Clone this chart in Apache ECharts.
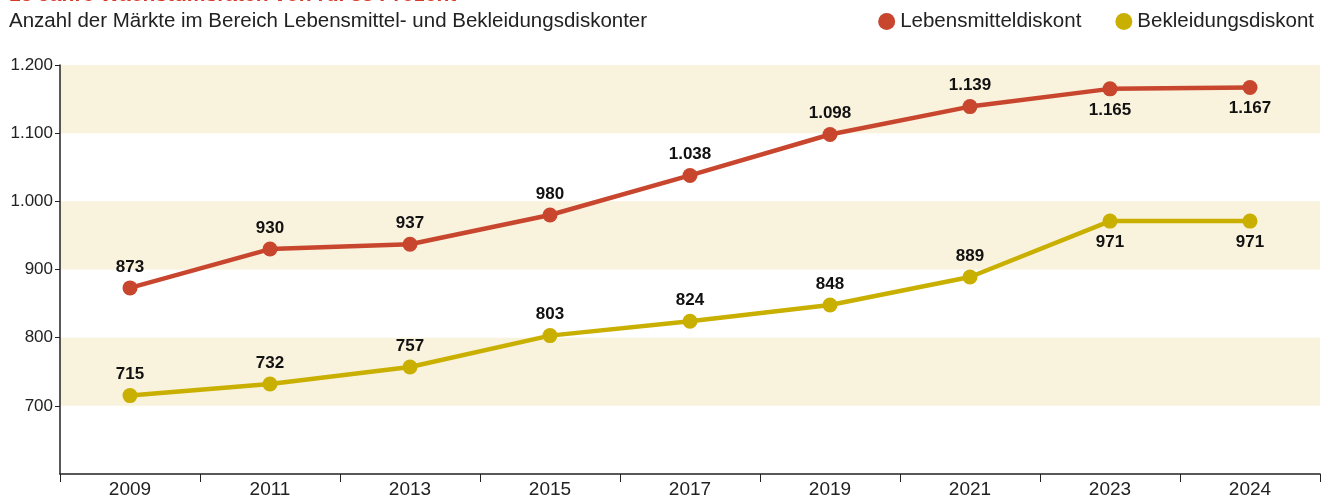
<!DOCTYPE html>
<html><head><meta charset="utf-8">
<script src="https://cdn.jsdelivr.net/npm/echarts@6/dist/echarts.min.js"></script>
<style>html,body{margin:0;padding:0;background:#fff}#c{width:1323px;height:501px}</style>
</head><body><div id="c"></div>
<script>
const years = ['2009','2011','2013','2015','2017','2019','2021','2023','2024'];
const lebensmittel = [873, 930, 937, 980, 1038, 1098, 1139, 1165, 1167];
const bekleidung = [715, 732, 757, 803, 824, 848, 889, 971, 971];
const labelBelow = [false, false, false, false, false, false, false, true, true];
const yTicks = [700, 800, 900, 1000, 1100, 1200];
const titleText = '15 Jahre Wachstumsraten von rd. 33 Prozent';
const subtitleText = 'Anzahl der Märkte im Bereich Lebensmittel- und Bekleidungsdiskonter';

const fmt = v => v.toLocaleString('de-DE');
const FONT = '"Liberation Sans", Arial, sans-serif';

function mk(name, vals, color) {
  return {
    name, type: 'line', data: vals.map((v, i) => ({
      value: v,
      label: { position: labelBelow[i] ? 'bottom' : 'top' }
    })),
    color, symbol: 'circle', symbolSize: 15,
    lineStyle: { width: 4.5, color },
    itemStyle: { color },
    label: { show: true, distance: 5, color: '#111', fontWeight: 'bold', fontSize: 17, fontFamily: FONT,
      formatter: p => fmt(p.value) },
    z: 3
  };
}

const chart = echarts.init(document.getElementById('c'));
chart.setOption({
  animation: false,
  textStyle: { fontFamily: FONT },
  title: [
    { text: titleText, left: 4, top: -20, textStyle: { color: '#d63a2a', fontSize: 21, fontWeight: 'bold', fontFamily: FONT } },
    { text: subtitleText, left: 4, top: 6, textStyle: { color: '#222', fontSize: 20.5, fontWeight: 'normal', fontFamily: FONT } }
  ],
  legend: {
    right: 4, top: 6, itemGap: 34, itemWidth: 17, itemHeight: 17, icon: 'circle',
    textStyle: { fontSize: 20.5, color: '#222', fontFamily: FONT },
    data: ['Lebensmitteldiskont', 'Bekleidungsdiskont']
  },
  grid: { left: 60, right: 3, top: 65, bottom: 27, containLabel: false },
  xAxis: {
    type: 'category', data: years, boundaryGap: true,
    axisLine: { lineStyle: { color: '#222', width: 1.5 } },
    axisTick: { show: true, length: 8, lineStyle: { color: '#222' } },
    axisLabel: { color: '#222', fontSize: 19, margin: 6, fontFamily: FONT },
    splitLine: { show: false }
  },
  yAxis: {
    type: 'value', min: 600, max: 1200, interval: 100,
    axisLine: { show: true, lineStyle: { color: '#222', width: 1.5 } },
    axisTick: { show: true, length: 5, lineStyle: { color: '#222' }, customValues: yTicks },
    axisLabel: { color: '#222', fontSize: 17, margin: 7, fontFamily: FONT,
      customValues: yTicks, formatter: v => fmt(v) },
    splitLine: { show: false },
    splitArea: { show: true, areaStyle: { color: ['#f9f2dc', 'rgba(255,255,255,0)'] } }
  },
  series: [
    mk('Lebensmitteldiskont', lebensmittel, '#c8452e'),
    mk('Bekleidungsdiskont', bekleidung, '#c9b000')
  ]
});
</script></body></html>
